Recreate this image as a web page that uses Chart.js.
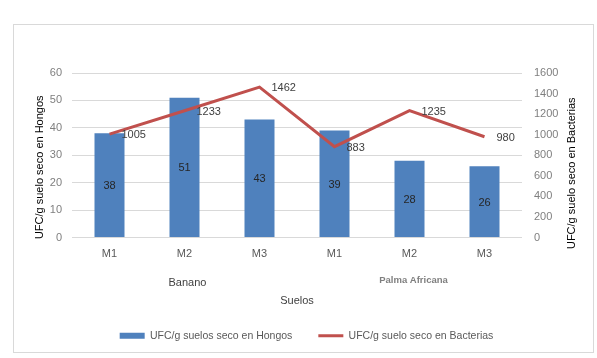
<!DOCTYPE html>
<html>
<head>
<meta charset="utf-8">
<script src="https://cdn.jsdelivr.net/npm/chart.js@4.4.1/dist/chart.umd.min.js"></script>
<style>
html,body{margin:0;padding:0;background:#fff;}
#wrap{position:relative;width:597px;height:358px;}
</style>
</head>
<body>
<div id="wrap"><canvas id="c" width="597" height="358"></canvas></div>
<script>
const categories = ["M1","M2","M3","M1","M2","M3"];
const groups = ["Banano","Palma Africana"];
const hongos = [38,51,43,39,28,26];
const bacterias = [1005,1233,1462,883,1235,980];
const leftTicks = [0,10,20,30,40,50,60];
const rightTicks = [0,200,400,600,800,1000,1200,1400,1600];
const leftTitle = 'UFC/g suelo seco en Hongos';
const rightTitle = 'UFC/g suelo seco en Bacterias';

const FONT = "'Liberation Sans', Arial, sans-serif";

const extras = {
  id: 'extras',
  beforeDraw(chart) {
    const ctx = chart.ctx;
    ctx.save();
    ctx.fillStyle = '#fff';
    ctx.fillRect(0,0,chart.width,chart.height);
    ctx.strokeStyle = '#d9d9d9';
    ctx.lineWidth = 1;
    ctx.strokeRect(13.5, 24.5, 580, 328);
    ctx.restore();
  },
  afterDatasetsDraw(chart) {
    const ctx = chart.ctx;
    ctx.save();
    ctx.font = '11px ' + FONT;
    ctx.textBaseline = 'middle';
    const barMeta = chart.getDatasetMeta(0);
    ctx.fillStyle = '#262626';
    ctx.textAlign = 'center';
    barMeta.data.forEach((el, i) => {
      ctx.fillText(String(hongos[i]), el.x, (el.y + el.base) / 2 + 1);
    });
    const lineMeta = chart.getDatasetMeta(1);
    ctx.fillStyle = '#404040';
    ctx.textAlign = 'left';
    lineMeta.data.forEach((el, i) => {
      ctx.fillText(String(bacterias[i]), el.x + 12, el.y + 1);
    });
    // group labels
    const xs = chart.scales.x;
    const g1 = (xs.getPixelForValue(0) + xs.getPixelForValue(2)) / 2;
    const g2 = (xs.getPixelForValue(3) + xs.getPixelForValue(5)) / 2;
    ctx.textAlign = 'center';
    ctx.fillStyle = '#404040';
    ctx.font = '11px ' + FONT;
    ctx.fillText(groups[0], g1 + 3, 283);
    ctx.fillStyle = '#7f7f7f';
    ctx.font = 'bold 9.5px ' + FONT;
    ctx.fillText(groups[1], g2 + 4, 280);
    // axis titles (rotated to read bottom-to-top)
    const ca = chart.chartArea;
    const midY = (ca.top + ca.bottom) / 2;
    ctx.fillStyle = '#000';
    ctx.font = '11px ' + FONT;
    ctx.save();
    ctx.translate(chart.scales.y.left + 10, midY + 12);
    ctx.rotate(-Math.PI / 2);
    ctx.fillText(leftTitle, 0, 0);
    ctx.restore();
    ctx.save();
    ctx.translate(chart.scales.y1.right - 11, midY + 18);
    ctx.rotate(-Math.PI / 2);
    ctx.fillText(rightTitle, 0, 0);
    ctx.restore();
    ctx.restore();
  }
};

new Chart(document.getElementById('c'), {
  data: {
    labels: categories,
    datasets: [
      {
        type: 'bar',
        label: 'UFC/g suelos seco en Hongos',
        data: hongos,
        backgroundColor: '#4f81bd',
        yAxisID: 'y',
        categoryPercentage: 1,
        barPercentage: 0.4,
        order: 1
      },
      {
        type: 'line',
        label: 'UFC/g suelo seco en Bacterias',
        data: bacterias,
        borderColor: '#c0504d',
        backgroundColor: '#c0504d',
        borderWidth: 3,
        pointRadius: 0,
        tension: 0,
        yAxisID: 'y1',
        order: 0
      }
    ]
  },
  options: {
    responsive: false,
    animation: false,
    devicePixelRatio: 1,
    layout: { padding: { left: 30, right: 14, top: 73, bottom: 7 } },
    plugins: {
      tooltip: { enabled: false },
      legend: {
        position: 'bottom',
        labels: {
          font: { family: FONT, size: 10.5 },
          color: '#595959',
          usePointStyle: true,
          pointStyleWidth: 25,
          boxHeight: 6,
          padding: 26,
          generateLabels(chart) {
            return [
              { text: 'UFC/g suelos seco en Hongos', fillStyle: '#4f81bd', strokeStyle: '#4f81bd', lineWidth: 0, pointStyle: 'rect', datasetIndex: 0, fontColor: '#595959' },
              { text: 'UFC/g suelo seco en Bacterias', fillStyle: '#c0504d', strokeStyle: '#c0504d', lineWidth: 3, pointStyle: 'line', datasetIndex: 1, fontColor: '#595959' }
            ];
          }
        }
      }
    },
    scales: {
      x: {
        type: 'category',
        grid: { display: false, drawTicks: false },
        border: { display: false },
        ticks: { font: { family: FONT, size: 11 }, color: '#595959', padding: 10, maxRotation: 0 },
        title: { display: true, text: 'Suelos', font: { family: FONT, size: 11 }, color: '#404040', padding: { top: 0, bottom: -3 } },
        afterFit(scale) { scale.height = 67; }
      },
      y: {
        position: 'left',
        min: 0, max: 60,
        afterBuildTicks(scale) { scale.ticks = leftTicks.map(v => ({ value: v })); },
        grid: { color: '#d9d9d9', drawTicks: false },
        border: { display: false },
        ticks: { font: { family: FONT, size: 11 }, color: '#7f7f7f', padding: 10 },
        title: { display: false },
        afterFit(scale) { scale.width = 42; }
      },
      y1: {
        position: 'right',
        min: 0, max: 1600,
        afterBuildTicks(scale) { scale.ticks = rightTicks.map(v => ({ value: v })); },
        grid: { display: false, drawTicks: false },
        border: { display: false },
        ticks: { font: { family: FONT, size: 11 }, color: '#7f7f7f', padding: 12, callback: v => String(v) },
        title: { display: false },
        afterFit(scale) { scale.width = 61; }
      }
    }
  },
  plugins: [extras]
});
</script>
</body>
</html>
